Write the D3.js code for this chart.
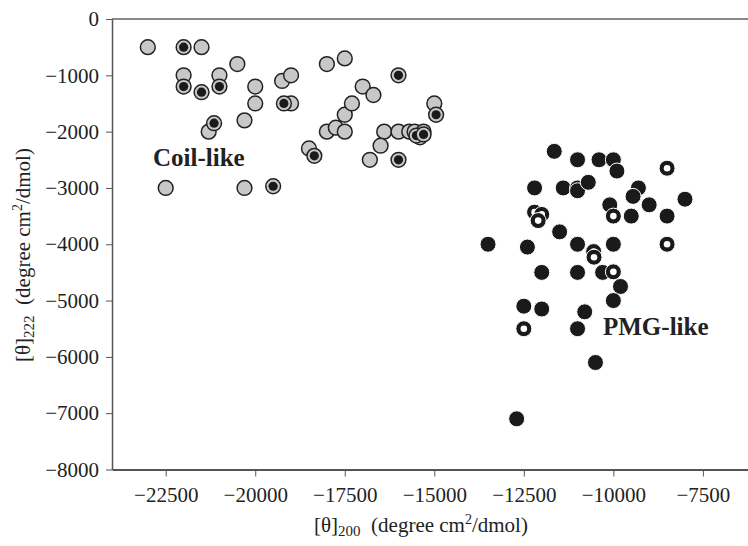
<!DOCTYPE html>
<html>
<head>
<meta charset="utf-8">
<script src="https://cdn.jsdelivr.net/npm/d3@7"></script>
<style>
  body { margin: 0; background: #fff; }
  svg { display: block; font-family: "Liberation Serif", "Times New Roman", serif; }
  .axis path, .axis line { stroke: #555; }
  .axis text { font-family: "Liberation Serif", serif; font-size: 21px; fill: #222; }
</style>
</head>
<body>
<div class="chart"></div>
<script>
// coil-like, plain grey circles
var coilPlainX = [-23000, -21500, -20500, -22000, -21000, -20000, -20000, -20300, -21300, -22500, -20300,
                  -19250, -19000, -19000, -18500, -18000, -17500, -18000, -17750, -17500, -17500, -17300,
                  -17000, -16700, -16400, -16000, -16500, -16800, -15000, -15700, -15550, -15400, -15300];
var coilPlainY = [-500, -500, -800, -1000, -1000, -1200, -1500, -1800, -2000, -3000, -3000,
                  -1100, -1000, -1500, -2300, -800, -700, -2000, -1930, -2000, -1700, -1500,
                  -1200, -1350, -2000, -2000, -2250, -2500, -1500, -2000, -2000, -2100, -2000];
// coil-like, grey circles with black centre
var coilDotX = [-22000, -22000, -21000, -21500, -21150, -19500, -19200, -18350, -16000, -16000, -14950, -15500, -15300];
var coilDotY = [-500, -1200, -1200, -1300, -1850, -2970, -1500, -2430, -1000, -2500, -1700, -2070, -2050];
// PMG-like, filled black circles
var pmgFullX = [-11650, -11000, -10400, -10000, -9900, -12200, -11400, -11000, -11000, -10700, -9300,
                -9450, -9000, -8000, -10100, -9500, -8500, -11500, -13500, -12400, -11000, -10000,
                -12000, -11000, -10300, -9800, -10000, -12500, -12000, -10800, -11000, -10500, -12700];
var pmgFullY = [-2350, -2500, -2500, -2500, -2700, -3000, -3000, -3000, -3050, -2900, -3000,
                -3150, -3300, -3200, -3300, -3500, -3500, -3780, -4000, -4050, -4000, -4000,
                -4500, -4500, -4500, -4750, -5000, -5100, -5150, -5200, -5500, -6100, -7100];
// PMG-like, black circles with white centre
var pmgRingX = [-8500, -10000, -12200, -12000, -12100, -8500, -10550, -10540, -10000, -12500];
var pmgRingY = [-2650, -3500, -3430, -3470, -3580, -4000, -4130, -4230, -4490, -5500];

var xTicks = [-22500, -20000, -17500, -15000, -12500, -10000, -7500];
var yTicks = [0, -1000, -2000, -3000, -4000, -5000, -6000, -7000, -8000];

var width = 748, height = 546;
var plotLeft = 112, plotTop = 19, plotBottom = 469.5;

var svg = d3.select(".chart").append("svg")
    .attr("width", width)
    .attr("height", height);

var x = d3.scaleLinear().domain([-24000, -6000]).range([plotLeft, 756.6]);
var y = d3.scaleLinear().domain([0, -8000]).range([plotTop, plotBottom]);

var fmt = function (d) { return d < 0 ? "\u2212" + Math.abs(d) : String(d); };

// top border of the frame
svg.append("line")
    .attr("x1", plotLeft).attr("x2", width)
    .attr("y1", plotTop).attr("y2", plotTop)
    .attr("stroke", "#888").attr("stroke-width", 2);

svg.append("g")
    .attr("class", "axis")
    .attr("transform", "translate(0," + plotBottom + ")")
    .call(d3.axisBottom(x).tickValues(xTicks).tickFormat(fmt).tickSize(7).tickPadding(11).tickSizeOuter(0))
    .call(function (g) { g.select(".domain").attr("stroke", "#777").attr("stroke-width", 2); });

svg.append("g")
    .attr("class", "axis")
    .attr("transform", "translate(" + plotLeft + ",0)")
    .call(d3.axisLeft(y).tickValues(yTicks).tickFormat(fmt).tickSize(6).tickPadding(7).tickSizeOuter(0))
    .call(function (g) { g.select(".domain").attr("stroke", "#555").attr("stroke-width", 1.5); });

function pts(xs, ys) { return xs.map(function (v, i) { return [v, ys[i]]; }); }

var plot = svg.append("g");

// grey circles
plot.selectAll(".coil").data(pts(coilPlainX, coilPlainY))
  .enter().append("circle")
    .attr("cx", function (d) { return x(d[0]); })
    .attr("cy", function (d) { return y(d[1]); })
    .attr("r", 7.4)
    .attr("fill", "#c8c8c8")
    .attr("stroke", "#222")
    .attr("stroke-width", 1.5);

var dots = plot.selectAll(".cdot").data(pts(coilDotX, coilDotY)).enter().append("g");
dots.append("circle")
    .attr("cx", function (d) { return x(d[0]); })
    .attr("cy", function (d) { return y(d[1]); })
    .attr("r", 7.4)
    .attr("fill", "#c8c8c8")
    .attr("stroke", "#222")
    .attr("stroke-width", 1.5);
dots.append("circle")
    .attr("cx", function (d) { return x(d[0]); })
    .attr("cy", function (d) { return y(d[1]); })
    .attr("r", 4.6)
    .attr("fill", "#1a1a1a");

// black circles
plot.selectAll(".pmg").data(pts(pmgFullX, pmgFullY))
  .enter().append("circle")
    .attr("cx", function (d) { return x(d[0]); })
    .attr("cy", function (d) { return y(d[1]); })
    .attr("r", 8)
    .attr("fill", "#1a1a1a")
    .attr("stroke", "#fff")
    .attr("stroke-width", 1);

var rings = plot.selectAll(".ring").data(pts(pmgRingX, pmgRingY)).enter().append("g");
rings.append("circle")
    .attr("cx", function (d) { return x(d[0]); })
    .attr("cy", function (d) { return y(d[1]); })
    .attr("r", 8)
    .attr("fill", "#1a1a1a")
    .attr("stroke", "#fff")
    .attr("stroke-width", 1);
rings.append("circle")
    .attr("cx", function (d) { return x(d[0]); })
    .attr("cy", function (d) { return y(d[1]); })
    .attr("r", 3.3)
    .attr("fill", "#fff");

// group labels
svg.append("text")
    .attr("x", 153).attr("y", 166)
    .attr("font-size", 25).attr("font-weight", "bold").attr("fill", "#222")
    .text("Coil-like");
svg.append("text")
    .attr("x", 603).attr("y", 335)
    .attr("font-size", 25).attr("font-weight", "bold").attr("fill", "#222")
    .text("PMG-like");

// axis titles
var xt = svg.append("text")
    .attr("x", 421).attr("y", 532)
    .attr("text-anchor", "middle")
    .attr("font-size", 21).attr("fill", "#222");
xt.append("tspan").text("[\u03b8]");
xt.append("tspan").attr("font-size", 15).attr("dy", 4).text("200");
xt.append("tspan").attr("dy", -4).text("\u2002(degree cm");
xt.append("tspan").attr("font-size", 14).attr("dy", -8).text("2");
xt.append("tspan").attr("dy", 8).text("/dmol)");

var yt = svg.append("text")
    .attr("transform", "translate(30,255) rotate(-90)")
    .attr("text-anchor", "middle")
    .attr("font-size", 21).attr("fill", "#222");
yt.append("tspan").text("[\u03b8]");
yt.append("tspan").attr("font-size", 15).attr("dy", 4).text("222");
yt.append("tspan").attr("dy", -4).text("\u2002(degree cm");
yt.append("tspan").attr("font-size", 14).attr("dy", -8).text("2");
yt.append("tspan").attr("dy", 8).text("/dmol)");
</script>
</body>
</html>
